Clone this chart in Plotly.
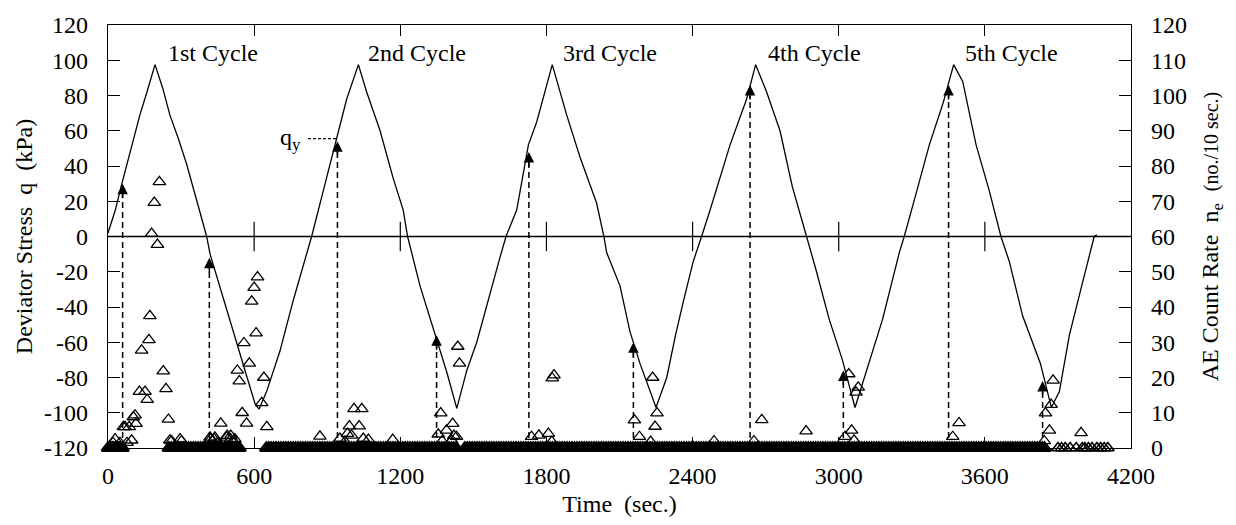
import plotly.graph_objects as go

# ---- deviator stress history, q (kPa) against time (sec.) ----
stress_t = [0, 30, 57, 100, 131, 160, 193, 225, 254, 290, 323, 371, 405, 419, 460, 514, 569,
            604, 620, 651, 706, 761, 816, 836, 884, 939, 980, 1028, 1062, 1117, 1171, 1212,
            1230, 1281, 1336, 1391, 1432, 1473, 1514, 1568, 1609, 1634, 1678, 1726, 1760,
            1824, 1883, 1938, 2006, 2036, 2047, 2102, 2143, 2184, 2250, 2294, 2330, 2362,
            2403, 2437, 2472, 2554, 2622, 2659, 2704, 2759, 2810, 2868, 2907, 2961, 3015,
            3067, 3127, 3180, 3249, 3269, 3317, 3372, 3427, 3472, 3509, 3564, 3618, 3666,
            3700, 3755, 3828, 3873, 3906, 3947, 4003, 4049, 4060]
stress_q = [2, 15, 30, 52, 69, 82, 97.5, 84, 69, 55, 41, 17, 0, -10, -29, -55, -79,
            -95, -98, -88, -65, -36, -9, 0, 26, 56, 78, 97.5, 82, 60, 33, 15,
            0, -28, -52, -77, -97.5, -76, -60, -32, -12, 0, 15, 52, 65,
            97.5, 69, 45, 19, 0, -9, -28, -54, -72, -97, -80, -56, -37,
            -14, 0, 15, 52, 78, 97.5, 82, 60, 28, 0, -19, -47, -70,
            -97, -70, -47, -9, 0, 24, 52, 75, 97.5, 88, 52, 26, 0,
            -14, -45, -72, -97, -88, -56, -25, 0, 1]

# ---- AE count rate n_e (no./10 sec.): readings above zero ----
ae_t = [21, 29, 49, 63, 70, 78, 87, 97, 104, 111, 115, 129, 138, 152, 161, 168, 172, 179,
        190, 203, 211, 227, 238, 248, 254, 261, 296, 302,
        419, 421, 436, 439, 452, 463, 487, 489, 503, 504, 516, 521, 531, 539, 551, 558,
        569, 580, 590, 600, 608, 614, 631, 640, 652,
        870, 952, 973, 983, 991, 1000, 1010, 1031, 1042, 1048, 1069, 1169,
        1356, 1366, 1372, 1390, 1411, 1415, 1420, 1431, 1436, 1443,
        1739, 1769, 1808, 1822, 1824, 1831,
        2161, 2182, 2228, 2236, 2246, 2254,
        2488, 2652, 2684, 2866,
        3026, 3041, 3053, 3063, 3071, 3080,
        3468, 3494,
        3844, 3849, 3865, 3872, 3880, 3995]
ae_n = [1.5, 2.5, 1.5, 6, 6, 1.5, 6, 2.2, 8.8, 9.3, 6.9, 16, 27.7, 16, 13.7, 30.7, 37.5, 60.8,
        69.6, 57.7, 75.5, 21.8, 16.8, 8.1, 2.2, 2, 2.5, 2,
        3, 2.5, 2.5, 3, 1.5, 7, 3, 3.5, 2.5, 3.5, 2, 2.5, 22, 19, 10, 29.8,
        7, 24, 41.6, 45.5, 32.6, 48.5, 12.8, 20, 6,
        3.3, 2.7, 1.8, 4.1, 6.2, 3.6, 11.1, 6.2, 11.1, 2.7, 2.4, 2.4,
        3.9, 9.9, 2, 5, 2.2, 6.9, 3.5, 3.2, 28.8, 24,
        3.2, 3.6, 4.1, 1.8, 19.8, 20.7,
        7.9, 3.2, 1.8, 20, 6.1, 9.9,
        2, 2, 8, 4.8,
        3.2, 21, 5, 2.2, 15.8, 17.2,
        3.2, 7.1,
        2, 9.9, 5, 12.3, 19.2, 4.3]

# spans of 10-sec. readings in which no AE events were counted
quiet_spans = [(0, 60), (250, 540), (650, 1430), (1465, 3845)]
quiet_tail_t = [3900, 3915, 3930, 3950, 3975, 4000, 4010, 4025, 4040, 4060, 4075, 4090, 4105]

# AE onset in each loading branch (arrow tips on the stress curve)
onset_t = [60, 416, 942, 1349, 1728, 2157, 2636, 3019, 3451, 3837]
onset_q = [30, -12, 54, -56, 48, -60, 86, -76, 86, -82]

# q_y marker on the second cycle
qy_level = 55.5
qy_label_t = 800
qy_line_t = [821, 942]

# cycle labels
cycle_names = ["1st Cycle", "2nd Cycle", "3rd Cycle", "4th Cycle", "5th Cycle"]
cycle_label_t = [238, 1060, 1860, 2702, 3510]
cycle_label_q = 104

# axis ticks
x_ticks = [0, 600, 1200, 1800, 2400, 3000, 3600, 4200]
q_ticks = list(range(-120, 121, 20))
n_ticks = list(range(0, 121, 10))

FONT = "Liberation Serif, Times New Roman, serif"
INK = "black"
FS = 24

# zero-count readings
quiet_t = []
for a, b in quiet_spans:
    quiet_t.extend(range(a, b + 1, 10))
quiet_n = [0] * len(quiet_t)
tail_n = [0] * len(quiet_tail_t)

fig = go.Figure()

# zero stress reference line with its time ticks
fig.add_trace(go.Scatter(x=[0, 4200], y=[0, 0], mode="lines",
                         line=dict(color=INK, width=1.3), hoverinfo="skip", showlegend=False))
fig.add_trace(go.Scatter(x=x_ticks[1:-1], y=[0] * (len(x_ticks) - 2), mode="markers",
                         marker=dict(symbol="line-ns", size=21, line=dict(color=INK, width=1.2)),
                         hoverinfo="skip", showlegend=False))

# stress curve
fig.add_trace(go.Scatter(x=stress_t, y=stress_q, mode="lines",
                         line=dict(color=INK, width=1.3), showlegend=False))

# dashed onset lines from the time axis up to the arrowheads
dx, dy = [], []
for t, q in zip(onset_t, onset_q):
    dx += [t, t, None]
    dy += [-120, q - 6, None]
fig.add_trace(go.Scatter(x=dx, y=dy, mode="lines",
                         line=dict(color=INK, width=1.5, dash="6px,4px"),
                         hoverinfo="skip", showlegend=False))

# q_y dotted leader
fig.add_trace(go.Scatter(x=qy_line_t, y=[qy_level, qy_level], mode="lines",
                         line=dict(color=INK, width=1.3, dash="3px,2px"),
                         hoverinfo="skip", showlegend=False))

# AE count rate (right axis); the long runs of zero readings merge into a band
fig.add_trace(go.Scatter(x=quiet_t, y=quiet_n, yaxis="y2", mode="markers", cliponaxis=False,
                         marker=dict(symbol="triangle-up-open", size=11, color=INK,
                                     line=dict(color=INK, width=2.4)),
                         showlegend=False))
fig.add_trace(go.Scatter(x=quiet_tail_t, y=tail_n, yaxis="y2", mode="markers", cliponaxis=False,
                         marker=dict(symbol="triangle-up-open", size=11, color=INK,
                                     line=dict(color=INK, width=1.6)),
                         showlegend=False))
fig.add_trace(go.Scatter(x=ae_t, y=ae_n, yaxis="y2", mode="markers", cliponaxis=False,
                         marker=dict(symbol="triangle-up-open", size=11, color=INK,
                                     line=dict(color=INK, width=1.3)),
                         showlegend=False))

annotations = []
for t, q in zip(onset_t, onset_q):
    annotations.append(dict(x=t, y=q, xref="x", yref="y", text="", showarrow=True,
                            ax=0, ay=16, arrowhead=2, arrowsize=1.4, arrowwidth=1.5,
                            arrowcolor=INK, standoff=0))
for name, t in zip(cycle_names, cycle_label_t):
    annotations.append(dict(x=t, y=cycle_label_q, xref="x", yref="y", text=name,
                            showarrow=False, xanchor="left", yanchor="middle",
                            font=dict(family=FONT, size=FS, color=INK)))
annotations.append(dict(x=qy_label_t, y=qy_level, xref="x", yref="y",
                        text="q<sub>y</sub>", showarrow=False, xanchor="right",
                        yanchor="middle", font=dict(family=FONT, size=FS, color=INK)))

axis_font = dict(family=FONT, size=FS, color=INK)

fig.update_layout(
    width=1236, height=525, autosize=False,
    margin=dict(l=108, r=105, t=19, b=77, pad=0),
    paper_bgcolor="white", plot_bgcolor="white",
    font=dict(family=FONT, color=INK),
    showlegend=False,
    annotations=annotations,
    xaxis=dict(range=[0, 4200], tickvals=x_ticks, ticktext=[str(v) for v in x_ticks],
               ticks="inside", ticklen=11, tickwidth=1.2, tickcolor=INK,
               showline=True, linecolor=INK, linewidth=1.3, mirror="ticks",
               showgrid=False, zeroline=False, tickfont=axis_font, ticklabelstandoff=6,
               title=dict(text="Time&nbsp; (sec.)", font=axis_font, standoff=7)),
    yaxis=dict(range=[-120, 120], tickvals=q_ticks, ticktext=[str(v) for v in q_ticks],
               ticks="inside", ticklen=12, tickwidth=1.2, tickcolor=INK,
               showline=True, linecolor=INK, linewidth=1.3,
               showgrid=False, zeroline=False, tickfont=axis_font, ticklabelstandoff=14,
               title=dict(text="Deviator Stress&nbsp; q&nbsp; (kPa)", font=axis_font, standoff=4)),
    yaxis2=dict(range=[0, 120], tickvals=n_ticks, ticktext=[str(v) for v in n_ticks],
                overlaying="y", side="right",
                ticks="inside", ticklen=12, tickwidth=1.2, tickcolor=INK,
                showline=True, linecolor=INK, linewidth=1.3,
                showgrid=False, zeroline=False, tickfont=axis_font, ticklabelstandoff=14,
                title=dict(text="AE Count Rate&nbsp; n<sub>e</sub>&nbsp; <span style=\"font-size:20px\">(no./10 sec.)</span>",
                           font=axis_font, standoff=15)),
)

fig.write_html("out.html")
